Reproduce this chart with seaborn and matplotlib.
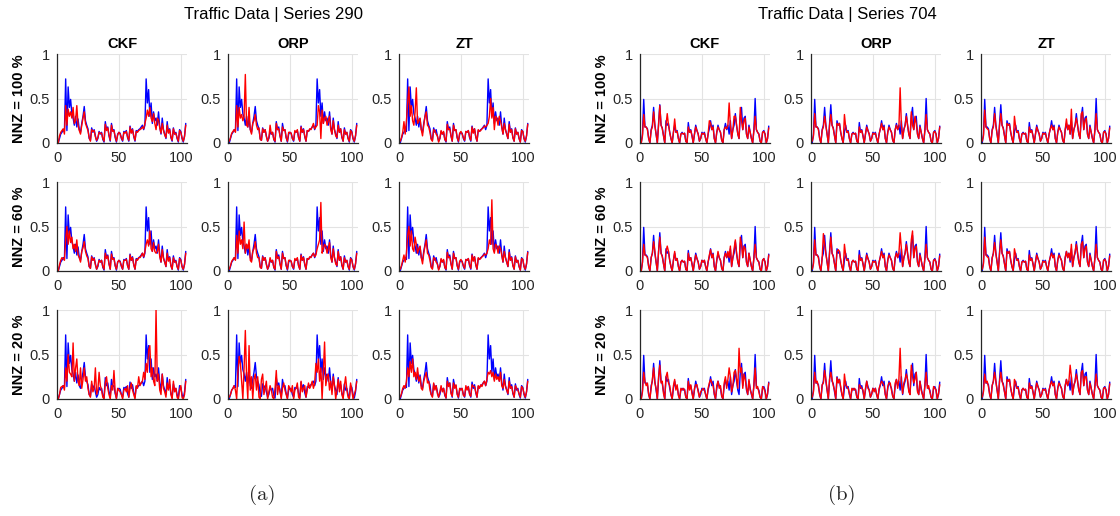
import matplotlib
matplotlib.use("Agg")
import matplotlib.pyplot as plt
import numpy as np
import pandas as pd
import seaborn as sns

# ---------------------------------------------------------------- data
methods = ["CKF", "ORP", "ZT"]
nnz_levels = ["100", "60", "20"]
x_ticks = [0, 50, 100]
y_ticks = [0, 0.5, 1]
y_tick_labels = ["0", "0.5", "1"]

# ground-truth traffic series (blue)
truth_290 = [
    0.00, 0.05, 0.10, 0.12, 0.15, 0.13, 0.72, 0.14, 0.63, 0.40,
    0.49, 0.33, 0.28, 0.20, 0.30, 0.18, 0.27, 0.15, 0.12, 0.22,
    0.30, 0.41, 0.25, 0.20, 0.16, 0.05, 0.03, 0.17, 0.12, 0.15,
    0.08, 0.02, 0.05, 0.13, 0.10, 0.12, 0.04, 0.01, 0.24, 0.15,
    0.18, 0.08, 0.02, 0.22, 0.14, 0.15, 0.06, 0.01, 0.10, 0.12,
    0.11, 0.05, 0.02, 0.13, 0.12, 0.14, 0.06, 0.02, 0.19, 0.12,
    0.16, 0.07, 0.02, 0.14, 0.13, 0.15, 0.16, 0.18, 0.20, 0.15,
    0.20, 0.72, 0.45, 0.60, 0.30, 0.45, 0.22, 0.35, 0.25, 0.28,
    0.20, 0.35, 0.18, 0.10, 0.28, 0.15, 0.10, 0.05, 0.24, 0.12,
    0.16, 0.06, 0.02, 0.17, 0.10, 0.12, 0.05, 0.01, 0.15, 0.13,
    0.05, 0.01, 0.08, 0.22,
]
truth_704 = [
    0.00, 0.10, 0.49, 0.18, 0.18, 0.16, 0.05, 0.00, 0.15, 0.20,
    0.40, 0.20, 0.10, 0.00, 0.22, 0.43, 0.20, 0.17, 0.08, 0.00,
    0.25, 0.20, 0.22, 0.12, 0.05, 0.00, 0.12, 0.20, 0.12, 0.14,
    0.05, 0.00, 0.10, 0.12, 0.10, 0.11, 0.02, 0.00, 0.23, 0.12,
    0.15, 0.08, 0.00, 0.10, 0.20, 0.14, 0.10, 0.02, 0.05, 0.12,
    0.10, 0.12, 0.05, 0.00, 0.10, 0.16, 0.25, 0.15, 0.20, 0.05,
    0.00, 0.12, 0.20, 0.15, 0.12, 0.03, 0.00, 0.15, 0.22, 0.15,
    0.20, 0.10, 0.25, 0.05, 0.15, 0.20, 0.33, 0.20, 0.10, 0.05,
    0.30, 0.40, 0.15, 0.28, 0.30, 0.10, 0.05, 0.20, 0.12, 0.05,
    0.00, 0.15, 0.50, 0.15, 0.12, 0.10, 0.02, 0.00, 0.12, 0.14,
    0.10, 0.00, 0.05, 0.19,
]

# reconstructions (red), series 290
rec_290_ckf_100 = [
    0.00, 0.08, 0.12, 0.14, 0.16, 0.10, 0.42, 0.20, 0.38, 0.30,
    0.35, 0.28, 0.40, 0.22, 0.25, 0.42, 0.20, 0.14, 0.10, 0.20,
    0.28, 0.35, 0.22, 0.18, 0.14, 0.06, 0.02, 0.15, 0.13, 0.14,
    0.07, 0.03, 0.06, 0.12, 0.11, 0.11, 0.05, 0.02, 0.21, 0.14,
    0.17, 0.09, 0.03, 0.20, 0.13, 0.14, 0.07, 0.02, 0.09, 0.12,
    0.10, 0.06, 0.03, 0.12, 0.11, 0.13, 0.07, 0.03, 0.18, 0.11,
    0.15, 0.08, 0.03, 0.13, 0.12, 0.14, 0.15, 0.16, 0.18, 0.16,
    0.22, 0.28, 0.37, 0.30, 0.40, 0.28, 0.24, 0.33, 0.22, 0.15,
    0.28, 0.26, 0.17, 0.11, 0.22, 0.14, 0.09, 0.06, 0.20, 0.11,
    0.15, 0.07, 0.03, 0.16, 0.10, 0.11, 0.06, 0.02, 0.14, 0.12,
    0.06, 0.02, 0.07, 0.20,
]
rec_290_orp_100 = [
    0.02, 0.06, 0.11, 0.13, 0.15, 0.12, 0.42, 0.18, 0.40, 0.28,
    0.32, 0.25, 0.30, 0.77, 0.20, 0.18, 0.40, 0.15, 0.10, 0.22,
    0.25, 0.32, 0.20, 0.15, 0.17, 0.04, 0.03, 0.16, 0.12, 0.15,
    0.07, 0.02, 0.06, 0.20, 0.10, 0.12, 0.04, 0.02, 0.22, 0.15,
    0.16, 0.08, 0.02, 0.18, 0.14, 0.15, 0.06, 0.02, 0.12, 0.12,
    0.11, 0.05, 0.03, 0.14, 0.12, 0.15, 0.06, 0.02, 0.18, 0.12,
    0.15, 0.08, 0.02, 0.14, 0.13, 0.16, 0.15, 0.18, 0.22, 0.16,
    0.18, 0.20, 0.42, 0.35, 0.05, 0.37, 0.22, 0.28, 0.30, 0.20,
    0.25, 0.30, 0.15, 0.10, 0.25, 0.15, 0.08, 0.06, 0.20, 0.12,
    0.16, 0.07, 0.02, 0.15, 0.10, 0.12, 0.05, 0.02, 0.14, 0.12,
    0.05, 0.02, 0.08, 0.20,
]
rec_290_zt_100 = [
    0.02, 0.06, 0.12, 0.24, 0.10, 0.25, 0.45, 0.63, 0.30, 0.42,
    0.25, 0.20, 0.35, 0.62, 0.22, 0.25, 0.28, 0.15, 0.08, 0.20,
    0.30, 0.35, 0.20, 0.18, 0.12, 0.04, 0.02, 0.15, 0.14, 0.10,
    0.08, 0.01, 0.05, 0.14, 0.10, 0.13, 0.04, 0.02, 0.21, 0.15,
    0.16, 0.08, 0.02, 0.20, 0.14, 0.15, 0.06, 0.02, 0.11, 0.13,
    0.10, 0.06, 0.03, 0.13, 0.12, 0.14, 0.07, 0.03, 0.18, 0.11,
    0.16, 0.07, 0.02, 0.15, 0.13, 0.14, 0.16, 0.17, 0.19, 0.18,
    0.20, 0.22, 0.30, 0.50, 0.28, 0.40, 0.15, 0.30, 0.28, 0.20,
    0.30, 0.25, 0.18, 0.10, 0.22, 0.15, 0.10, 0.05, 0.21, 0.12,
    0.15, 0.06, 0.02, 0.16, 0.10, 0.12, 0.05, 0.01, 0.14, 0.13,
    0.05, 0.02, 0.08, 0.21,
]
rec_290_ckf_60 = [
    0.00, 0.07, 0.12, 0.15, 0.14, 0.12, 0.35, 0.50, 0.30, 0.45,
    0.32, 0.38, 0.25, 0.30, 0.22, 0.35, 0.18, 0.15, 0.10, 0.22,
    0.26, 0.33, 0.22, 0.17, 0.14, 0.05, 0.03, 0.16, 0.12, 0.14,
    0.07, 0.02, 0.06, 0.12, 0.10, 0.12, 0.05, 0.02, 0.20, 0.14,
    0.17, 0.08, 0.02, 0.19, 0.13, 0.14, 0.06, 0.02, 0.10, 0.12,
    0.10, 0.06, 0.02, 0.12, 0.12, 0.13, 0.06, 0.02, 0.18, 0.12,
    0.15, 0.07, 0.02, 0.13, 0.12, 0.15, 0.15, 0.17, 0.20, 0.16,
    0.22, 0.30, 0.35, 0.28, 0.45, 0.25, 0.22, 0.32, 0.22, 0.20,
    0.22, 0.30, 0.16, 0.10, 0.24, 0.14, 0.10, 0.05, 0.20, 0.11,
    0.15, 0.06, 0.02, 0.15, 0.10, 0.11, 0.05, 0.02, 0.14, 0.12,
    0.05, 0.02, 0.07, 0.20,
]
rec_290_orp_60 = [
    0.02, 0.06, 0.11, 0.13, 0.15, 0.12, 0.40, 0.20, 0.45, 0.30,
    0.35, 0.25, 0.55, 0.20, 0.30, 0.25, 0.35, 0.12, 0.10, 0.22,
    0.25, 0.33, 0.20, 0.15, 0.15, 0.04, 0.03, 0.16, 0.12, 0.15,
    0.07, 0.02, 0.06, 0.15, 0.10, 0.12, 0.04, 0.02, 0.22, 0.14,
    0.16, 0.08, 0.02, 0.20, 0.14, 0.15, 0.06, 0.02, 0.12, 0.12,
    0.11, 0.05, 0.03, 0.14, 0.12, 0.15, 0.06, 0.02, 0.18, 0.12,
    0.15, 0.08, 0.02, 0.14, 0.13, 0.16, 0.15, 0.18, 0.20, 0.16,
    0.18, 0.25, 0.30, 0.35, 0.77, 0.20, 0.25, 0.30, 0.28, 0.20,
    0.25, 0.32, 0.15, 0.10, 0.25, 0.15, 0.08, 0.06, 0.22, 0.12,
    0.16, 0.07, 0.02, 0.15, 0.10, 0.12, 0.05, 0.02, 0.14, 0.12,
    0.05, 0.02, 0.08, 0.20,
]
rec_290_zt_60 = [
    0.02, 0.06, 0.12, 0.18, 0.10, 0.20, 0.40, 0.50, 0.28, 0.45,
    0.25, 0.22, 0.38, 0.30, 0.20, 0.25, 0.28, 0.15, 0.08, 0.20,
    0.28, 0.35, 0.20, 0.18, 0.12, 0.04, 0.02, 0.15, 0.14, 0.10,
    0.08, 0.01, 0.05, 0.14, 0.10, 0.13, 0.04, 0.02, 0.21, 0.15,
    0.16, 0.08, 0.02, 0.20, 0.14, 0.15, 0.06, 0.02, 0.11, 0.13,
    0.10, 0.06, 0.03, 0.13, 0.12, 0.14, 0.07, 0.03, 0.18, 0.11,
    0.16, 0.07, 0.02, 0.15, 0.13, 0.14, 0.16, 0.17, 0.19, 0.18,
    0.20, 0.25, 0.35, 0.30, 0.80, 0.25, 0.20, 0.30, 0.28, 0.20,
    0.28, 0.25, 0.18, 0.10, 0.22, 0.15, 0.10, 0.05, 0.21, 0.12,
    0.15, 0.06, 0.02, 0.16, 0.10, 0.12, 0.05, 0.01, 0.14, 0.13,
    0.05, 0.02, 0.08, 0.21,
]
rec_290_ckf_20 = [
    0.00, 0.05, 0.13, 0.14, 0.15, 0.10, 0.35, 0.20, 0.50, 0.30,
    0.28, 0.25, 0.63, 0.20, 0.35, 0.45, 0.20, 0.15, 0.35, 0.12,
    0.22, 0.35, 0.20, 0.25, 0.12, 0.05, 0.02, 0.20, 0.08, 0.12,
    0.35, 0.05, 0.10, 0.30, 0.15, 0.10, 0.02, 0.00, 0.18, 0.25,
    0.12, 0.05, 0.00, 0.15, 0.10, 0.32, 0.08, 0.00, 0.12, 0.10,
    0.08, 0.05, 0.00, 0.10, 0.12, 0.08, 0.15, 0.02, 0.12, 0.18,
    0.10, 0.05, 0.00, 0.15, 0.12, 0.25, 0.15, 0.18, 0.20, 0.30,
    0.22, 0.40, 0.30, 0.55, 0.60, 0.25, 0.35, 0.20, 0.15, 1.00,
    0.20, 0.28, 0.10, 0.05, 0.28, 0.12, 0.08, 0.02, 0.18, 0.10,
    0.22, 0.05, 0.00, 0.20, 0.08, 0.12, 0.02, 0.00, 0.10, 0.15,
    0.02, 0.00, 0.05, 0.20,
]
rec_290_orp_20 = [
    0.02, 0.05, 0.10, 0.12, 0.15, 0.10, 0.00, 0.30, 0.48, 0.40,
    0.20, 0.00, 0.35, 0.77, 0.25, 0.00, 0.60, 0.10, 0.25, 0.00,
    0.22, 0.28, 0.10, 0.25, 0.02, 0.00, 0.22, 0.28, 0.05, 0.12,
    0.20, 0.00, 0.08, 0.15, 0.10, 0.02, 0.00, 0.12, 0.32, 0.05,
    0.15, 0.10, 0.00, 0.12, 0.18, 0.10, 0.05, 0.00, 0.15, 0.12,
    0.08, 0.15, 0.00, 0.10, 0.12, 0.18, 0.02, 0.00, 0.20, 0.08,
    0.12, 0.15, 0.02, 0.10, 0.18, 0.12, 0.15, 0.20, 0.12, 0.18,
    0.40, 0.30, 0.45, 0.20, 0.35, 0.00, 0.30, 0.64, 0.15, 0.25,
    0.28, 0.10, 0.20, 0.05, 0.25, 0.15, 0.00, 0.10, 0.22, 0.08,
    0.20, 0.05, 0.00, 0.15, 0.25, 0.10, 0.02, 0.00, 0.18, 0.10,
    0.00, 0.05, 0.10, 0.20,
]
rec_290_zt_20 = [
    0.02, 0.06, 0.12, 0.15, 0.12, 0.20, 0.35, 0.25, 0.42, 0.30,
    0.45, 0.25, 0.30, 0.22, 0.35, 0.20, 0.25, 0.12, 0.10, 0.20,
    0.25, 0.30, 0.18, 0.20, 0.10, 0.05, 0.02, 0.18, 0.10, 0.15,
    0.06, 0.02, 0.08, 0.15, 0.08, 0.12, 0.05, 0.01, 0.20, 0.14,
    0.18, 0.06, 0.03, 0.18, 0.12, 0.16, 0.05, 0.02, 0.12, 0.10,
    0.12, 0.04, 0.03, 0.15, 0.10, 0.14, 0.05, 0.03, 0.16, 0.14,
    0.14, 0.08, 0.02, 0.15, 0.12, 0.16, 0.14, 0.18, 0.20, 0.15,
    0.22, 0.30, 0.28, 0.32, 0.25, 0.30, 0.20, 0.28, 0.22, 0.25,
    0.20, 0.30, 0.15, 0.12, 0.22, 0.14, 0.10, 0.06, 0.20, 0.12,
    0.14, 0.07, 0.02, 0.15, 0.12, 0.10, 0.06, 0.02, 0.14, 0.12,
    0.06, 0.02, 0.08, 0.20,
]

# reconstructions (red), series 704
rec_704_ckf_100 = [
    0.00, 0.08, 0.32, 0.18, 0.18, 0.15, 0.05, 0.00, 0.14, 0.18,
    0.35, 0.20, 0.10, 0.00, 0.20, 0.42, 0.20, 0.16, 0.08, 0.00,
    0.20, 0.33, 0.20, 0.12, 0.05, 0.00, 0.12, 0.27, 0.12, 0.13,
    0.05, 0.00, 0.10, 0.11, 0.10, 0.11, 0.02, 0.00, 0.18, 0.12,
    0.14, 0.08, 0.00, 0.10, 0.18, 0.14, 0.10, 0.02, 0.05, 0.11,
    0.10, 0.11, 0.05, 0.00, 0.10, 0.25, 0.22, 0.15, 0.18, 0.05,
    0.00, 0.12, 0.18, 0.15, 0.12, 0.03, 0.00, 0.15, 0.18, 0.16,
    0.20, 0.45, 0.20, 0.05, 0.15, 0.30, 0.30, 0.20, 0.10, 0.05,
    0.40, 0.25, 0.15, 0.25, 0.28, 0.10, 0.05, 0.18, 0.12, 0.05,
    0.00, 0.14, 0.30, 0.15, 0.12, 0.10, 0.02, 0.00, 0.12, 0.13,
    0.10, 0.00, 0.05, 0.17,
]
rec_704_orp_100 = [
    0.02, 0.08, 0.33, 0.18, 0.18, 0.15, 0.05, 0.00, 0.14, 0.18,
    0.30, 0.20, 0.10, 0.00, 0.20, 0.32, 0.20, 0.16, 0.08, 0.00,
    0.22, 0.20, 0.22, 0.12, 0.05, 0.00, 0.32, 0.18, 0.12, 0.13,
    0.05, 0.00, 0.10, 0.11, 0.10, 0.11, 0.02, 0.00, 0.18, 0.12,
    0.14, 0.08, 0.00, 0.10, 0.18, 0.14, 0.10, 0.02, 0.05, 0.11,
    0.10, 0.11, 0.05, 0.00, 0.10, 0.16, 0.22, 0.15, 0.18, 0.05,
    0.00, 0.12, 0.18, 0.15, 0.12, 0.03, 0.00, 0.15, 0.20, 0.15,
    0.18, 0.62, 0.20, 0.05, 0.15, 0.20, 0.30, 0.20, 0.10, 0.05,
    0.35, 0.20, 0.15, 0.30, 0.22, 0.10, 0.05, 0.18, 0.12, 0.05,
    0.00, 0.14, 0.32, 0.15, 0.12, 0.10, 0.02, 0.00, 0.12, 0.13,
    0.10, 0.00, 0.05, 0.18,
]
rec_704_zt_100 = [
    0.02, 0.08, 0.37, 0.18, 0.16, 0.15, 0.05, 0.00, 0.14, 0.18,
    0.33, 0.20, 0.10, 0.00, 0.20, 0.33, 0.20, 0.16, 0.08, 0.00,
    0.22, 0.20, 0.21, 0.12, 0.05, 0.00, 0.30, 0.18, 0.12, 0.13,
    0.05, 0.00, 0.10, 0.11, 0.10, 0.11, 0.02, 0.00, 0.18, 0.12,
    0.14, 0.08, 0.00, 0.10, 0.18, 0.14, 0.10, 0.02, 0.05, 0.11,
    0.10, 0.11, 0.05, 0.00, 0.10, 0.16, 0.20, 0.15, 0.18, 0.05,
    0.00, 0.12, 0.18, 0.15, 0.12, 0.03, 0.00, 0.15, 0.27, 0.15,
    0.20, 0.10, 0.38, 0.05, 0.15, 0.20, 0.28, 0.20, 0.10, 0.05,
    0.33, 0.35, 0.15, 0.25, 0.28, 0.10, 0.05, 0.18, 0.12, 0.05,
    0.00, 0.14, 0.33, 0.15, 0.12, 0.10, 0.02, 0.00, 0.12, 0.13,
    0.10, 0.00, 0.05, 0.17,
]
rec_704_ckf_60 = [
    0.00, 0.10, 0.30, 0.18, 0.17, 0.15, 0.05, 0.00, 0.15, 0.20,
    0.33, 0.22, 0.10, 0.00, 0.22, 0.38, 0.20, 0.16, 0.08, 0.00,
    0.22, 0.28, 0.22, 0.12, 0.05, 0.00, 0.12, 0.22, 0.12, 0.14,
    0.05, 0.00, 0.10, 0.12, 0.10, 0.11, 0.02, 0.00, 0.20, 0.12,
    0.15, 0.08, 0.00, 0.10, 0.18, 0.14, 0.10, 0.02, 0.05, 0.12,
    0.10, 0.12, 0.05, 0.00, 0.10, 0.18, 0.24, 0.15, 0.19, 0.05,
    0.00, 0.12, 0.22, 0.15, 0.12, 0.03, 0.00, 0.15, 0.20, 0.15,
    0.22, 0.15, 0.28, 0.05, 0.15, 0.25, 0.35, 0.20, 0.10, 0.05,
    0.38, 0.30, 0.15, 0.28, 0.25, 0.10, 0.05, 0.20, 0.12, 0.05,
    0.00, 0.15, 0.30, 0.15, 0.12, 0.10, 0.02, 0.00, 0.12, 0.14,
    0.10, 0.00, 0.05, 0.18,
]
rec_704_orp_60 = [
    0.02, 0.08, 0.35, 0.18, 0.18, 0.15, 0.05, 0.00, 0.14, 0.42,
    0.30, 0.20, 0.10, 0.00, 0.20, 0.38, 0.20, 0.16, 0.08, 0.00,
    0.22, 0.24, 0.22, 0.12, 0.05, 0.00, 0.30, 0.18, 0.12, 0.13,
    0.05, 0.00, 0.10, 0.12, 0.10, 0.11, 0.02, 0.00, 0.18, 0.12,
    0.14, 0.08, 0.00, 0.10, 0.18, 0.14, 0.10, 0.02, 0.05, 0.11,
    0.10, 0.11, 0.05, 0.00, 0.10, 0.16, 0.22, 0.15, 0.18, 0.05,
    0.00, 0.12, 0.18, 0.15, 0.12, 0.03, 0.00, 0.15, 0.20, 0.15,
    0.20, 0.43, 0.25, 0.05, 0.15, 0.20, 0.30, 0.20, 0.10, 0.05,
    0.35, 0.45, 0.15, 0.25, 0.28, 0.10, 0.05, 0.18, 0.12, 0.05,
    0.00, 0.14, 0.30, 0.15, 0.12, 0.10, 0.02, 0.00, 0.12, 0.13,
    0.10, 0.00, 0.05, 0.17,
]
rec_704_zt_60 = [
    0.02, 0.08, 0.38, 0.18, 0.16, 0.15, 0.05, 0.00, 0.14, 0.20,
    0.32, 0.20, 0.10, 0.00, 0.20, 0.35, 0.20, 0.16, 0.08, 0.00,
    0.22, 0.20, 0.22, 0.12, 0.05, 0.00, 0.25, 0.18, 0.12, 0.13,
    0.05, 0.00, 0.10, 0.11, 0.10, 0.11, 0.02, 0.00, 0.18, 0.12,
    0.14, 0.08, 0.00, 0.10, 0.18, 0.14, 0.10, 0.02, 0.05, 0.11,
    0.10, 0.11, 0.05, 0.00, 0.10, 0.16, 0.20, 0.15, 0.18, 0.05,
    0.00, 0.12, 0.18, 0.15, 0.12, 0.03, 0.00, 0.15, 0.22, 0.15,
    0.20, 0.12, 0.30, 0.05, 0.15, 0.22, 0.30, 0.20, 0.10, 0.05,
    0.30, 0.33, 0.15, 0.25, 0.28, 0.10, 0.05, 0.18, 0.12, 0.05,
    0.00, 0.14, 0.30, 0.15, 0.12, 0.10, 0.02, 0.00, 0.12, 0.13,
    0.10, 0.00, 0.05, 0.17,
]
rec_704_ckf_20 = [
    0.00, 0.08, 0.30, 0.20, 0.15, 0.18, 0.05, 0.00, 0.12, 0.22,
    0.35, 0.18, 0.12, 0.00, 0.25, 0.38, 0.18, 0.20, 0.06, 0.00,
    0.25, 0.30, 0.18, 0.15, 0.05, 0.00, 0.15, 0.22, 0.10, 0.16,
    0.04, 0.00, 0.12, 0.10, 0.12, 0.10, 0.02, 0.00, 0.20, 0.10,
    0.16, 0.06, 0.00, 0.12, 0.16, 0.16, 0.08, 0.02, 0.08, 0.10,
    0.12, 0.10, 0.05, 0.00, 0.12, 0.18, 0.22, 0.18, 0.15, 0.06,
    0.00, 0.15, 0.20, 0.12, 0.15, 0.03, 0.00, 0.18, 0.25, 0.12,
    0.22, 0.35, 0.25, 0.08, 0.15, 0.30, 0.32, 0.22, 0.12, 0.57,
    0.30, 0.35, 0.12, 0.28, 0.22, 0.12, 0.05, 0.22, 0.10, 0.06,
    0.00, 0.16, 0.35, 0.12, 0.14, 0.08, 0.02, 0.00, 0.14, 0.12,
    0.08, 0.00, 0.06, 0.18,
]
rec_704_orp_20 = [
    0.02, 0.08, 0.30, 0.18, 0.20, 0.14, 0.05, 0.00, 0.16, 0.18,
    0.32, 0.22, 0.10, 0.00, 0.22, 0.30, 0.22, 0.15, 0.10, 0.00,
    0.24, 0.18, 0.22, 0.14, 0.05, 0.00, 0.28, 0.16, 0.14, 0.12,
    0.06, 0.00, 0.12, 0.10, 0.12, 0.10, 0.02, 0.00, 0.16, 0.14,
    0.12, 0.10, 0.00, 0.12, 0.20, 0.12, 0.10, 0.02, 0.06, 0.12,
    0.08, 0.12, 0.05, 0.00, 0.12, 0.16, 0.20, 0.18, 0.15, 0.05,
    0.00, 0.14, 0.18, 0.18, 0.10, 0.03, 0.00, 0.18, 0.22, 0.12,
    0.22, 0.57, 0.18, 0.06, 0.18, 0.22, 0.28, 0.22, 0.08, 0.05,
    0.38, 0.25, 0.18, 0.22, 0.30, 0.08, 0.05, 0.20, 0.10, 0.05,
    0.00, 0.16, 0.30, 0.12, 0.15, 0.08, 0.02, 0.00, 0.14, 0.12,
    0.10, 0.00, 0.06, 0.16,
]
rec_704_zt_20 = [
    0.02, 0.08, 0.28, 0.18, 0.20, 0.14, 0.05, 0.00, 0.15, 0.20,
    0.30, 0.20, 0.10, 0.00, 0.20, 0.30, 0.20, 0.15, 0.08, 0.00,
    0.22, 0.20, 0.22, 0.12, 0.05, 0.00, 0.22, 0.18, 0.12, 0.13,
    0.05, 0.00, 0.10, 0.12, 0.10, 0.11, 0.02, 0.00, 0.18, 0.12,
    0.14, 0.08, 0.00, 0.10, 0.18, 0.14, 0.10, 0.02, 0.05, 0.11,
    0.10, 0.11, 0.05, 0.00, 0.10, 0.16, 0.20, 0.15, 0.18, 0.05,
    0.00, 0.12, 0.18, 0.15, 0.12, 0.03, 0.00, 0.15, 0.22, 0.15,
    0.20, 0.38, 0.25, 0.05, 0.15, 0.20, 0.28, 0.20, 0.10, 0.05,
    0.30, 0.32, 0.15, 0.25, 0.25, 0.10, 0.05, 0.18, 0.12, 0.05,
    0.00, 0.14, 0.28, 0.15, 0.12, 0.10, 0.02, 0.00, 0.12, 0.13,
    0.10, 0.00, 0.05, 0.17,
]

truth = {"290": truth_290, "704": truth_704}
recon = {
    ("290", "CKF", "100"): rec_290_ckf_100, ("290", "ORP", "100"): rec_290_orp_100,
    ("290", "ZT", "100"): rec_290_zt_100, ("290", "CKF", "60"): rec_290_ckf_60,
    ("290", "ORP", "60"): rec_290_orp_60, ("290", "ZT", "60"): rec_290_zt_60,
    ("290", "CKF", "20"): rec_290_ckf_20, ("290", "ORP", "20"): rec_290_orp_20,
    ("290", "ZT", "20"): rec_290_zt_20,
    ("704", "CKF", "100"): rec_704_ckf_100, ("704", "ORP", "100"): rec_704_orp_100,
    ("704", "ZT", "100"): rec_704_zt_100, ("704", "CKF", "60"): rec_704_ckf_60,
    ("704", "ORP", "60"): rec_704_orp_60, ("704", "ZT", "60"): rec_704_zt_60,
    ("704", "CKF", "20"): rec_704_ckf_20, ("704", "ORP", "20"): rec_704_orp_20,
    ("704", "ZT", "20"): rec_704_zt_20,
}

# ---------------------------------------------------------------- style
sns.set_theme(style="white")
plt.rcParams["font.family"] = ["Liberation Sans", "DejaVu Sans"]

W, H = 1120, 516
fig = plt.figure(figsize=(W / 100, H / 100), dpi=100)

group_lefts = {"290": [57, 228, 399], "704": [640, 811, 981]}
row_tops = [54, 182, 310]
ax_w, ax_h = 130, 89
axis_col = "#262626"

for sid in ["290", "704"]:
    for r, nnz in enumerate(nnz_levels):
        for c, m in enumerate(methods):
            left = group_lefts[sid][c]
            top = row_tops[r]
            ax = fig.add_axes([left / W, 1 - (top + ax_h) / H, ax_w / W, ax_h / H])
            t = np.arange(1, len(truth[sid]) + 1)
            df = pd.DataFrame({"t": t, "truth": truth[sid], "rec": recon[(sid, m, nnz)]})
            sns.lineplot(data=df, x="t", y="truth", ax=ax, color="#0000ff",
                         lw=1.0, estimator=None, sort=False)
            sns.lineplot(data=df, x="t", y="rec", ax=ax, color="#ff0000",
                         lw=1.0, estimator=None, sort=False)
            ax.set_xlim(0, 105)
            ax.set_ylim(0, 1)
            ax.set_xticks(x_ticks)
            ax.set_yticks(y_ticks)
            ax.set_yticklabels(y_tick_labels)
            ax.set_xlabel("")
            ax.set_ylabel("")
            ax.grid(True, color="#e3e3e3", lw=0.8)
            ax.set_axisbelow(True)
            for s in ["top", "right"]:
                ax.spines[s].set_visible(False)
            for s in ["left", "bottom"]:
                ax.spines[s].set_color(axis_col)
                ax.spines[s].set_linewidth(0.9)
            ax.tick_params(direction="in", length=2.5, width=0.6, colors=axis_col,
                           labelsize=10.5)
            ax.tick_params(axis="x", pad=6)
            ax.tick_params(axis="y", pad=5)
            if r == 0:
                ax.set_title(m, fontsize=10.5, fontweight="bold", pad=4, color="#000000")
            if c == 0:
                ax.set_ylabel(f"NNZ = {nnz} %", fontsize=10.5, fontweight="bold",
                              labelpad=3, color="#000000")

# group titles and panel captions
fig.text(274 / W, 1 - 15 / H, "Traffic Data | Series 290", ha="center", va="center",
         fontsize=12, color="#000000")
fig.text(847 / W, 1 - 15 / H, "Traffic Data | Series 704", ha="center", va="center",
         fontsize=12, color="#000000")
fig.text(262 / W, 1 - 495 / H, "(a)", ha="center", va="center", fontsize=15,
         family=["cmr10", "DejaVu Serif"])
fig.text(842 / W, 1 - 495 / H, "(b)", ha="center", va="center", fontsize=15,
         family=["cmr10", "DejaVu Serif"])

fig.savefig("out.png", dpi=100)
